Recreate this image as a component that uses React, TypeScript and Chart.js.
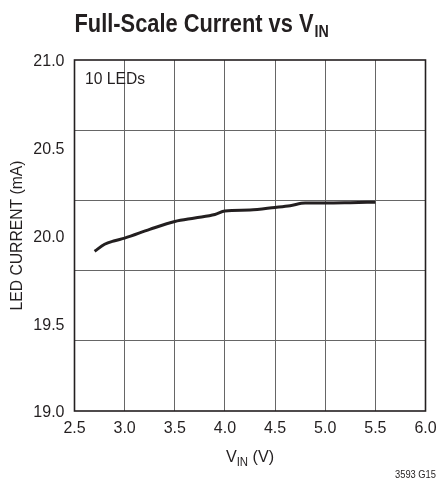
import React, { useEffect, useRef } from "react";
import { Chart, registerables } from "chart.js";

Chart.register(...registerables);

const VIN = [2.7, 2.8, 2.9, 3.0, 3.25, 3.5, 3.7, 3.9, 4.0, 4.25, 4.5, 4.65, 4.8, 5.0, 5.25, 5.5];
const LED_CURRENT = [19.91, 19.95, 19.97, 19.985, 20.035, 20.08, 20.1, 20.12, 20.14, 20.145, 20.16, 20.17, 20.185, 20.185, 20.187, 20.19];

const X_TICKS = [2.5, 3.0, 3.5, 4.0, 4.5, 5.0, 5.5, 6.0];
const Y_LABEL_TICKS = [19.0, 19.5, 20.0, 20.5, 21.0];
const Y_GRID_TICKS = [19.4, 19.8, 20.2, 20.6];

const INK = "#231f20";
const GRID = "#666666";
const FONT = '"Liberation Sans", Arial, Helvetica, sans-serif';

function drawScaled(ctx: CanvasRenderingContext2D, text: string, font: string, x: number, y: number, sx: number) {
  ctx.save();
  ctx.font = font;
  ctx.translate(x, y);
  ctx.scale(sx, 1);
  ctx.fillText(text, 0, 0);
  ctx.restore();
  ctx.font = font;
  return ctx.measureText(text).width * sx;
}

const annotations = {
  id: "annotations",
  afterDraw(chart: any) {
    const ctx: CanvasRenderingContext2D = chart.ctx;
    const { left, right, top, bottom } = chart.chartArea;
    ctx.save();
    // frame
    ctx.strokeStyle = INK;
    ctx.lineWidth = 1.6;
    ctx.strokeRect(left, top, right - left, bottom - top);

    ctx.fillStyle = INK;
    ctx.textAlign = "left";
    ctx.textBaseline = "alphabetic";

    // title
    const tFont = `bold 26px ${FONT}`;
    ctx.font = tFont;
    const tMain = "Full-Scale Current vs V";
    const tsx = 239 / ctx.measureText(tMain).width;
    let tx = left;
    tx += drawScaled(ctx, tMain, tFont, tx, 32, tsx);
    drawScaled(ctx, "IN", `bold 17px ${FONT}`, tx + 1, 37, tsx);

    // x axis title
    const xsx = 0.95;
    ctx.font = `17px ${FONT}`;
    const w1 = ctx.measureText("V").width * xsx;
    ctx.font = `12px ${FONT}`;
    const w2 = ctx.measureText("IN").width * xsx;
    ctx.font = `17px ${FONT}`;
    const w3 = ctx.measureText(" (V)").width * xsx;
    const total = w1 + w2 + w3;
    let xx = (left + right) / 2 - total / 2;
    xx += drawScaled(ctx, "V", `17px ${FONT}`, xx, 462, xsx);
    xx += drawScaled(ctx, "IN", `12px ${FONT}`, xx, 466, xsx);
    drawScaled(ctx, " (V)", `17px ${FONT}`, xx, 462, xsx);

    // y axis title
    const yFont = `16px ${FONT}`;
    ctx.font = yFont;
    const yText = "LED CURRENT (mA)";
    const ysx = 150 / ctx.measureText(yText).width;
    ctx.save();
    ctx.translate(21.5, (top + bottom) / 2);
    ctx.rotate(-Math.PI / 2);
    ctx.scale(ysx, 1);
    ctx.textAlign = "center";
    ctx.fillText(yText, 0, 0);
    ctx.restore();

    // in-plot label
    const lFont = `17px ${FONT}`;
    ctx.font = lFont;
    const lsx = 60 / ctx.measureText("10 LEDs").width;
    drawScaled(ctx, "10 LEDs", lFont, 85, 84, lsx);

    // figure code
    const cFont = `11px ${FONT}`;
    ctx.font = cFont;
    const csx = 41 / ctx.measureText("3593 G15").width;
    drawScaled(ctx, "3593 G15", cFont, 395, 478, csx);

    ctx.restore();
  },
};

const isIn = (arr: number[], v: number) => arr.some((a) => Math.abs(a - v) < 1e-6);

export default function App() {
  const ref = useRef<HTMLCanvasElement>(null);
  useEffect(() => {
    if (!ref.current) return;
    const chart = new Chart(ref.current, {
      type: "line",
      data: {
        datasets: [
          {
            data: VIN.map((x, i) => ({ x, y: LED_CURRENT[i] })),
            borderColor: INK,
            borderWidth: 3,
            pointRadius: 0,
            cubicInterpolationMode: "monotone",
            fill: false,
          },
        ],
      },
      options: {
        animation: false,
        responsive: false,
        devicePixelRatio: 1,
        layout: { padding: { top: 60, right: 11.5, bottom: 0, left: 0 } },
        plugins: { legend: { display: false }, title: { display: false }, tooltip: { enabled: false } },
        scales: {
          x: {
            type: "linear",
            min: 2.5,
            max: 6.0,
            afterBuildTicks: (scale: any) => {
              scale.ticks = X_TICKS.map((v) => ({ value: v }));
            },
            afterFit: (scale: any) => {
              scale.height = 69;
              scale.paddingLeft = 0;
              scale.paddingRight = 0;
            },
            grid: { color: GRID, lineWidth: 1, drawTicks: false },
            border: { display: false },
            ticks: {
              autoSkip: false,
              maxRotation: 0,
              padding: 8,
              color: INK,
              font: { family: FONT, size: 16 },
              callback: (v: any) => Number(v).toFixed(1),
            },
          },
          y: {
            type: "linear",
            min: 19.0,
            max: 21.0,
            afterBuildTicks: (scale: any) => {
              const vals = [...Y_LABEL_TICKS, ...Y_GRID_TICKS].sort((a, b) => a - b);
              scale.ticks = vals.map((v) => ({ value: v }));
            },
            afterFit: (scale: any) => {
              scale.width = 74.5;
              scale.paddingTop = 0;
              scale.paddingBottom = 0;
            },
            grid: {
              drawTicks: false,
              lineWidth: 1,
              color: (c: any) => (c.tick && isIn(Y_GRID_TICKS, c.tick.value) ? GRID : "rgba(0,0,0,0)"),
            },
            border: { display: false },
            ticks: {
              autoSkip: false,
              padding: 10,
              labelOffset: 2,
              color: INK,
              font: { family: FONT, size: 16 },
              callback: (v: any) => (isIn(Y_LABEL_TICKS, Number(v)) ? Number(v).toFixed(1) : ""),
            },
          },
        },
      },
      plugins: [annotations],
    } as any);
    return () => chart.destroy();
  }, []);
  return (
    <div style={{ position: "absolute", left: 0, top: 0, width: 437, height: 480, background: "#fff" }}>
      <canvas ref={ref} width={437} height={480} style={{ width: 437, height: 480 }} />
    </div>
  );
}
